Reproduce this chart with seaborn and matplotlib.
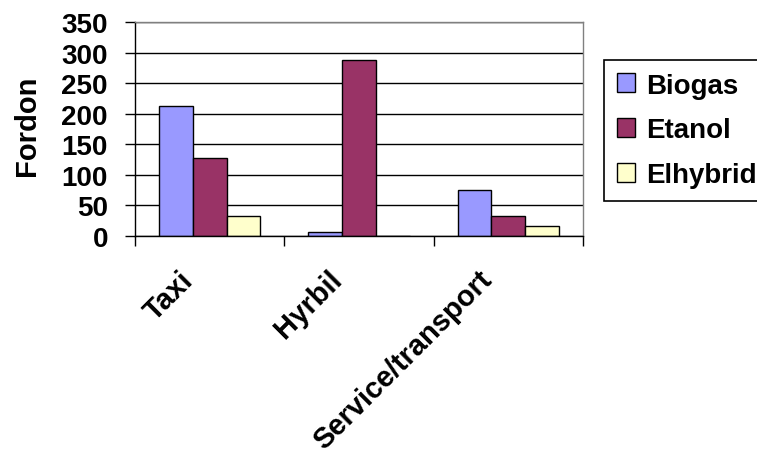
import matplotlib
matplotlib.use("Agg")
import matplotlib.pyplot as plt
import matplotlib.transforms as mtransforms
import seaborn as sns
import pandas as pd

categories = ["Taxi", "Hyrbil", "Service/transport"]
series = ["Biogas", "Etanol", "Elhybrid"]
biogas = [212, 6, 75]
etanol = [127, 288, 32]
elhybrid = [32, 0, 16]
colors = ["#9999FF", "#993366", "#FFFFCC"]
yticks = [0, 50, 100, 150, 200, 250, 300, 350]

rows = []
for s, vals in zip(series, [biogas, etanol, elhybrid]):
    for c, v in zip(categories, vals):
        rows.append({"cat": c, "serie": s, "val": v})
df = pd.DataFrame(rows)

sns.set_style("white")
plt.rcParams["font.family"] = ["Liberation Sans", "DejaVu Sans"]
plt.rcParams["font.weight"] = "bold"
for k in ["text.color", "axes.labelcolor", "xtick.color", "ytick.color"]:
    plt.rcParams[k] = "black"

fig = plt.figure(figsize=(7.57, 4.56), dpi=100)
ax = fig.add_axes([135 / 757, 1 - 237 / 456, (583 - 135) / 757, (237 - 23) / 456])

sns.barplot(data=df, x="cat", y="val", hue="serie", order=categories,
            hue_order=series, palette=colors, width=0.68, ax=ax,
            edgecolor="black", linewidth=1, saturation=1, legend=True)

ax.set_xlim(-0.5, 2.5)
ax.set_ylim(0, 350)
ax.set_yticks(yticks)
ax.set_yticklabels([str(t) for t in yticks], fontsize=20, fontweight="bold")
ax.yaxis.grid(True, color="black", linewidth=1)
ax.set_axisbelow(True)

ax.set_xticks([-0.5, 0.5, 1.5, 2.5])
ax.set_xticklabels([])
ax.set_xticks([0, 1, 2], minor=True)
ax.set_xticklabels(categories, minor=True, rotation=45, ha="right",
                   rotation_mode="anchor", fontsize=21, fontweight="bold")
ax.tick_params(axis="x", which="major", direction="out", length=7, width=1,
               color="black", bottom=True)
ax.tick_params(axis="x", which="minor", length=0, pad=21)
ax.tick_params(axis="y", direction="out", length=7, width=1, color="black",
               left=True, pad=12.5)
shift = mtransforms.ScaledTranslation(-31 / 100, 0, fig.dpi_scale_trans)
for lab in ax.get_xticklabels(minor=True):
    lab.set_transform(lab.get_transform() + shift)

ax.set_xlabel("")
ax.set_ylabel("Fordon", fontsize=21, fontweight="bold")
ax.yaxis.set_label_coords((41 - 135) / 448, 0.518)

for side in ["left", "bottom"]:
    ax.spines[side].set_color("black")
    ax.spines[side].set_linewidth(1)
for side in ["top", "right"]:
    ax.spines[side].set_color("#808080")
    ax.spines[side].set_linewidth(1)

handles, labels = ax.get_legend_handles_labels()
ax.get_legend().remove()
leg = fig.legend(handles, labels, loc="upper left",
                 bbox_to_anchor=(604 / 757, 1 - 61 / 456),
                 prop={"size": 20, "weight": "bold"}, frameon=True,
                 fancybox=False, edgecolor="black", framealpha=1,
                 handlelength=0.68, handleheight=0.68, handletextpad=0.37,
                 labelspacing=0.68, borderpad=0.45, borderaxespad=0)
leg.get_frame().set_linewidth(1.2)

fig.savefig("out.png", dpi=100)
